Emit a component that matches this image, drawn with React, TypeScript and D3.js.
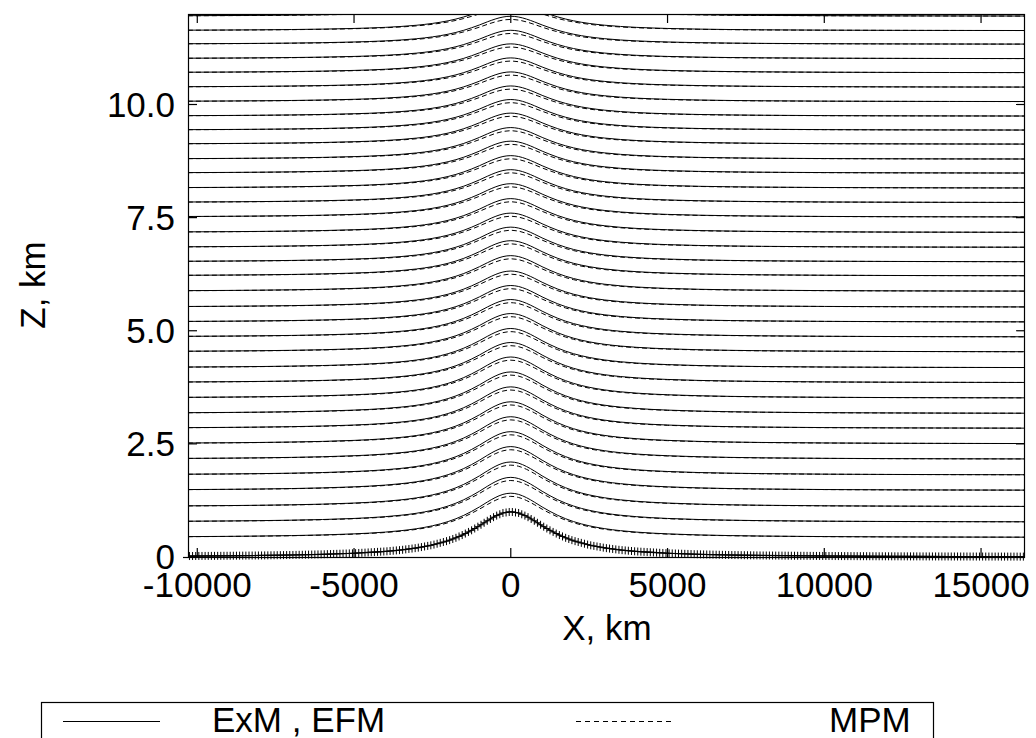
import React from 'react';
import * as d3 from 'd3';

// Hill / displacement shape profile (x in km, normalized height)
const profileX = [-10300, -9000, -8000, -7000, -6000, -5000, -4000, -3500, -3000, -2500, -2000, -1750, -1500, -1250, -1000, -750, -500, -250, 0, 250, 500, 750, 1000, 1250, 1500, 1750, 2000, 2500, 3000, 3500, 4000, 5000, 6000, 7000, 8000, 10000, 12000, 14000, 16400];
const profileZ = [0.021, 0.027, 0.034, 0.044, 0.059, 0.083, 0.123, 0.155, 0.2, 0.265, 0.36, 0.424, 0.5, 0.59, 0.69, 0.8, 0.9, 0.973, 1.0, 0.973, 0.9, 0.8, 0.69, 0.59, 0.5, 0.424, 0.36, 0.265, 0.2, 0.155, 0.123, 0.083, 0.059, 0.044, 0.034, 0.022, 0.0154, 0.0114, 0.0083];

// Streamline base heights (km), top to bottom
const levels = [11.95, 11.63, 11.33, 11.01, 10.70, 10.38, 10.06, 9.74, 9.43, 9.12, 8.79, 8.48, 8.15, 7.83, 7.51, 7.17, 6.84, 6.52, 6.21, 5.87, 5.52, 5.19, 4.86, 4.53, 4.18, 3.85, 3.51, 3.17, 2.84, 2.50, 2.16, 1.81, 1.47, 1.11, 0.77, 0.43];
// Peak displacement over the hill (km), ExM/EFM solid lines
const ampExM = [0.60, 0.61, 0.62, 0.63, 0.64, 0.65, 0.66, 0.67, 0.68, 0.69, 0.70, 0.71, 0.72, 0.73, 0.74, 0.75, 0.76, 0.77, 0.78, 0.79, 0.80, 0.81, 0.83, 0.85, 0.87, 0.89, 0.91, 0.92, 0.92, 0.93, 0.94, 0.96, 0.97, 0.99, 0.99, 0.98];
// Peak displacement (km), MPM dashed lines
const ampMPM = [0.53, 0.54, 0.55, 0.56, 0.57, 0.58, 0.59, 0.60, 0.61, 0.62, 0.63, 0.64, 0.65, 0.66, 0.67, 0.68, 0.69, 0.70, 0.71, 0.72, 0.73, 0.74, 0.76, 0.78, 0.80, 0.82, 0.84, 0.85, 0.85, 0.86, 0.87, 0.89, 0.90, 0.92, 0.92, 0.91];

const xTicks = [-10000, -5000, 0, 5000, 10000, 15000];
const xTickLabels = ['-10000', '-5000', '0', '5000', '10000', '15000'];
const yTicks = [0, 2.5, 5, 7.5, 10];
const yTickLabels = ['0', '2.5', '5.0', '7.5', '10.0'];
const legendLabels = ['ExM , EFM', 'MPM'];
const markerStepKm = 100;

const FONT = 'Liberation Sans, Arial, Helvetica, sans-serif';

export default function App() {
  const L = 188, R = 1025, T = 14, B = 557;
  const x = d3.scaleLinear().domain([-10296, 16402]).range([L, R]);
  const y = d3.scaleLinear().domain([0, 12]).range([B, T]);
  const prof = d3.scaleLinear().domain(profileX).range(profileZ);
  const line = d3
    .line<[number, number]>()
    .x((d) => x(d[0]))
    .y((d) => y(d[1]))
    .curve(d3.curveMonotoneX);

  const streams = (amps: number[]) =>
    levels.map((lv, i) => line(profileX.map((px, j) => [px, lv + amps[i] * profileZ[j]] as [number, number])) || '');

  const solid = streams(ampExM);
  const dashed = streams(ampMPM);
  const hill = line(profileX.map((px, j) => [px, profileZ[j]] as [number, number])) || '';
  const markers = d3.range(profileX[0] + 50, profileX[profileX.length - 1], markerStepKm).map((xx) => [x(xx), y(prof(xx))]);
  const tl = 9;

  return (
    <svg width={1036} height={738} style={{ position: 'absolute', left: 0, top: 0, background: '#fff' }} fontFamily={FONT}>
      <rect x={0} y={0} width={1036} height={738} fill="#fff" />
      <defs>
        <clipPath id="plot">
          <rect x={L} y={T} width={R - L} height={B - T + 4} />
        </clipPath>
      </defs>
      <g clipPath="url(#plot)" fill="none">
        {dashed.map((d, i) => (
          <path key={'d' + i} d={d} stroke="#000" strokeWidth={1} strokeDasharray="5,3" />
        ))}
        {solid.map((d, i) => (
          <path key={'s' + i} d={d} stroke="#000" strokeWidth={1} />
        ))}
        <path d={hill} stroke="#000" strokeWidth={1.2} />
        {markers.map(([mx, my], i) => (
          <path key={'m' + i} d={`M${mx - 3},${my}H${mx + 3}M${mx},${my - 4}V${my + 4}`} stroke="#000" strokeWidth={1} />
        ))}
      </g>
      {/* frame */}
      <rect x={L + 0.5} y={T + 0.5} width={R - L - 1} height={B - T} fill="none" stroke="#000" strokeWidth={1.2} />
      <line x1={L - 5} x2={L} y1={B + 0.5} y2={B + 0.5} stroke="#000" strokeWidth={1.2} />
      {/* x ticks */}
      {xTicks.map((t, i) => (
        <g key={'xt' + i}>
          <line x1={x(t)} x2={x(t)} y1={B} y2={B - tl} stroke="#000" strokeWidth={1.2} />
          <line x1={x(t)} x2={x(t)} y1={T} y2={T + tl} stroke="#000" strokeWidth={1.2} />
          <text x={x(t)} y={597} textAnchor="middle" fontSize={35} fill="#000">
            {xTickLabels[i]}
          </text>
        </g>
      ))}
      {/* y ticks */}
      {yTicks.map((t, i) => (
        <g key={'yt' + i}>
          <line x1={L} x2={L + tl} y1={y(t)} y2={y(t)} stroke="#000" strokeWidth={1.2} />
          <line x1={R} x2={R - tl} y1={y(t)} y2={y(t)} stroke="#000" strokeWidth={1.2} />
          <text x={175} y={y(t) + 12} textAnchor="end" fontSize={35} fill="#000">
            {yTickLabels[i]}
          </text>
        </g>
      ))}
      <text x={607} y={640} textAnchor="middle" fontSize={35} fill="#000">X, km</text>
      <text transform="translate(45,285) rotate(-90)" textAnchor="middle" fontSize={35} fill="#000">Z, km</text>
      {/* legend */}
      <rect x={41.5} y={702.5} width={892} height={60} fill="none" stroke="#000" strokeWidth={1.2} />
      <line x1={63} x2={160} y1={721.5} y2={721.5} stroke="#000" strokeWidth={1} />
      <text x={212} y={732} fontSize={35} fill="#000">{legendLabels[0]}</text>
      <line x1={576} x2={673} y1={721.5} y2={721.5} stroke="#000" strokeWidth={1} strokeDasharray="5,4" />
      <text x={829} y={732} fontSize={35} fill="#000">{legendLabels[1]}</text>
    </svg>
  );
}
